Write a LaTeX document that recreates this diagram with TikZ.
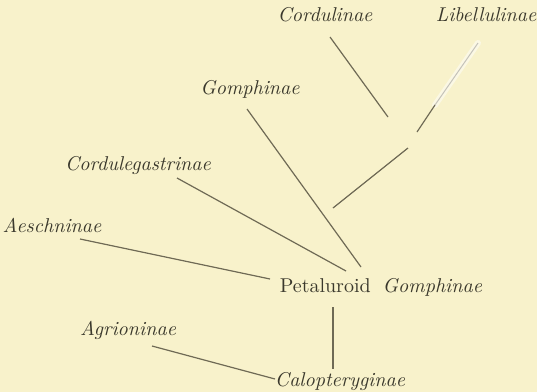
\documentclass[tikz,border=0pt]{standalone}
\usepackage{xcolor}
\usepackage{tikz}
\usetikzlibrary{calc}
\definecolor{paperbg}{HTML}{F8F2CB}
\definecolor{inkmain}{HTML}{3A382C}
\definecolor{inkline}{HTML}{6F6A55}
\definecolor{inkfaint}{HTML}{FBF8E4}
\tikzset{every node/.append style={font=\rmfamily,text=inkmain,inner sep=1pt},
  taxon/.style={font=\rmfamily\itshape},
  branch/.style={draw=inkline,line width=.6pt}}

\begin{document}
\begin{tikzpicture}[x=.5pt,y=-.5pt]
  \fill[paperbg] (0,0) rectangle (537,392);
  \useasboundingbox (0,0) rectangle (537,392);
  % labels
  \node[taxon] (cordul) at (325,15) {Cordulinae};
  \node[taxon] (libell) at (486,15) {Libellulinae};
  \node[taxon] (gomph) at (250,89) {Gomphinae};
  \node[taxon] (cordgas) at (138,165) {Cordulegastrinae};
  \node[taxon] (aesch) at (52,225) {Aeschninae};
  \node (petal) at (381,287) {Petaluroid\hspace{.6em}\textit{Gomphinae}};
  \node[taxon] (agrion) at (128,330) {Agrioninae};
  \node[taxon] (calopt) at (340,381) {Calopteryginae};
  % ends of the branches
  \coordinate (cordA) at (330,37);  \coordinate (cordB) at (388,117);
  \coordinate (libA) at (478,43);   \coordinate (libM) at (435,105);
  \coordinate (libB) at (417,132);
  \coordinate (stemA) at (408,148); \coordinate (stemB) at (333,208);
  \coordinate (gompA) at (247,109); \coordinate (gompB) at (361,267);
  \coordinate (cgA) at (177,178);   \coordinate (cgB) at (346,271);
  \coordinate (aeA) at (80,239);    \coordinate (aeB) at (270,279);
  \coordinate (vertA) at (333,307); \coordinate (vertB) at (333,369);
  \coordinate (agA) at (152,346);   \coordinate (agB) at (275,379);
  % branches
  \draw[draw=inkfaint,line width=3pt,line cap=round] (libA) -- (libM);
  \draw[branch,draw=inkline!40,line width=.5pt] (libA) -- (libM);
  \draw[branch] (cordA) -- (cordB);
  \draw[branch] (libM) -- (libB);
  \draw[branch] (stemA) -- (stemB);
  \draw[branch] (gompA) -- (gompB);
  \draw[branch] (cgA) -- (cgB);
  \draw[branch] (aeA) -- (aeB);
  \draw[branch] (vertA) -- (vertB);
  \draw[branch] (agA) -- (agB);
\end{tikzpicture}
\end{document}
